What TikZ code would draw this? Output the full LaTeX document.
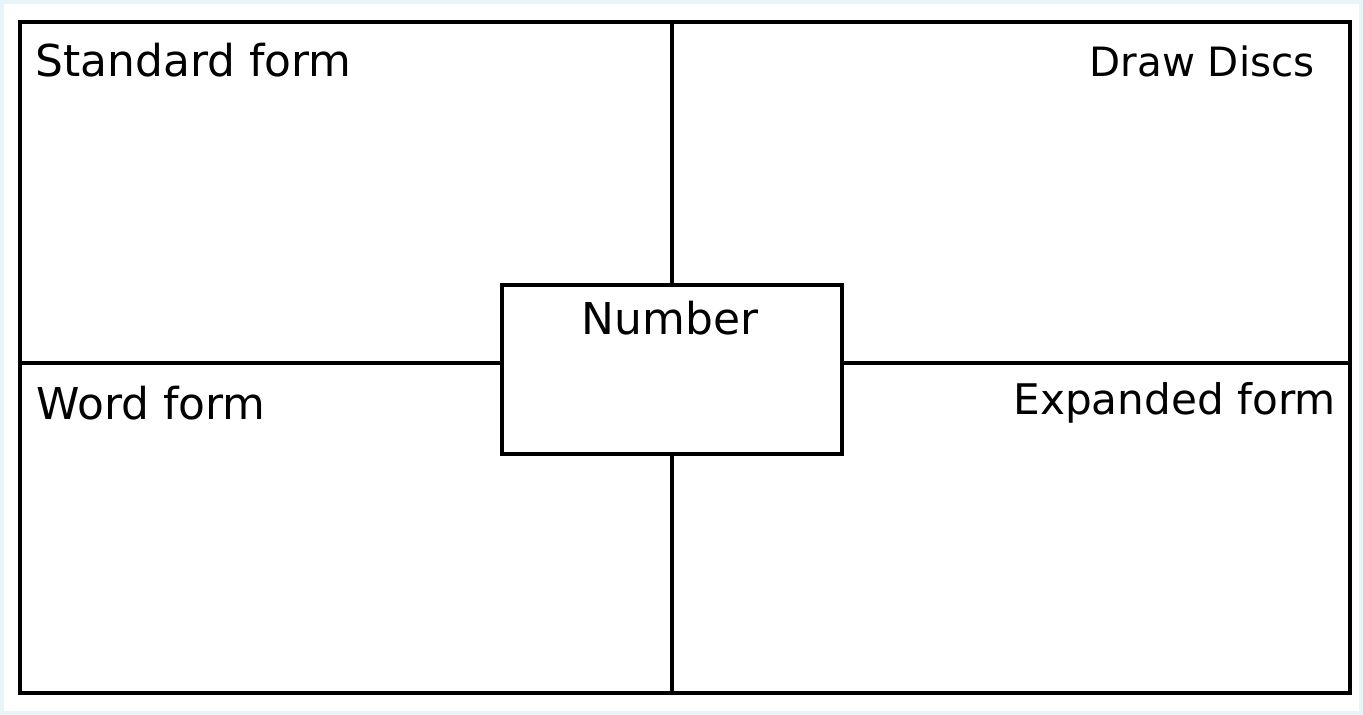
\documentclass[tikz,border=0pt]{standalone}
\usepackage{fontspec}
\setmainfont{DejaVu Sans}
\definecolor{bgblue}{RGB}{231,245,248}
\begin{document}
\begin{tikzpicture}[x=0.02cm,y=-0.02cm,
    frameline/.style={line width=2pt},
    lbl/.style={font=\fontsize{25}{30}\selectfont, inner sep=0pt}]
    % background and outer frame
    \fill[bgblue] (0,0) rectangle (1363,715);
    \fill[white] (4,4) rectangle (1359,711);
    \coordinate (tl) at (20,22);
    \coordinate (br) at (1350,693);
    \draw[frameline] (tl) rectangle (br);

    \node[frameline, draw, fill=white, inner sep=0pt, minimum width=6.8cm, minimum height=3.38cm] (num) at (672,369.5) {};
    \node[lbl, anchor=base] (numtxt) at (670,335) {Number};

    \coordinate (top) at (672,22);
    \coordinate (bot) at (672,693);
    \coordinate (lft) at (20,363);
    \coordinate (rgt) at (1350,363);
    \draw[frameline] (top) -- (num.north);
    \draw[frameline] (num.south) -- (bot);
    \draw[frameline] (lft) -- (lft -| num.west);
    \draw[frameline] (rgt -| num.east) -- (rgt);

    \node[lbl, anchor=base west] (std) at (35,77) {Standard form};
    \node[lbl, anchor=base east, font=\fontsize{23}{28}\selectfont] (disc) at (1315,77) {Draw Discs};
    \node[lbl, anchor=base west] (word) at (36,420) {Word form};
    \node[lbl, anchor=base east, font=\fontsize{24}{29}\selectfont] (expd) at (1336,415) {Expanded form};
\end{tikzpicture}
\end{document}
